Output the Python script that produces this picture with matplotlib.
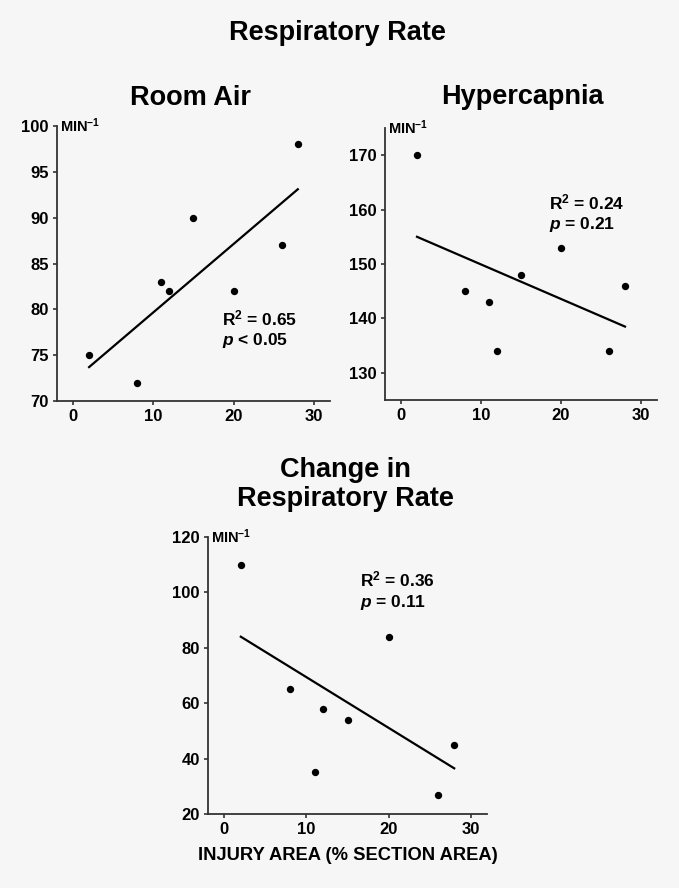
import numpy as np
import matplotlib
matplotlib.use('Agg')
import matplotlib.pyplot as plt

plt.rcParams['font.family'] = ['Liberation Sans', 'DejaVu Sans']
plt.rcParams['mathtext.fontset'] = 'custom'
plt.rcParams['mathtext.rm'] = 'Liberation Sans:bold'
plt.rcParams['mathtext.it'] = 'Liberation Sans:bold:italic'
plt.rcParams['mathtext.bf'] = 'Liberation Sans:bold'

# injury area (% section area), same animals in every panel
injury = [2, 8, 11, 12, 15, 20, 26, 28]

room_air = [75, 72, 83, 82, 90, 82, 87, 98]
hypercapnia = [170, 145, 143, 134, 148, 153, 134, 146]
change = [110, 65, 35, 58, 54, 84, 27, 45]

# regression lines (start, end at x = 2 and x = 28)
fit_x = [2, 28]
room_fit = [73.7, 93.1]
hyper_fit = [155.0, 138.5]
change_fit = [84.0, 36.5]

room_ticks = [70, 75, 80, 85, 90, 95, 100]
hyper_ticks = [130, 140, 150, 160, 170]
change_ticks = [20, 40, 60, 80, 100, 120]
x_ticks = [0, 10, 20, 30]

bg = '#f6f6f6'
fig = plt.figure(figsize=(6.79, 8.88), dpi=100, facecolor=bg)


def panel(rect, x, y, fx, fy, ylim, yticks, stats, spos):
    ax = fig.add_axes(rect, facecolor=bg)
    ax.scatter(x, y, s=28, color='black', zorder=3, linewidths=0)
    ax.plot(fx, fy, color='black', lw=1.6)
    ax.set_xlim(-2, 32)
    ax.set_ylim(*ylim)
    ax.set_xticks(x_ticks)
    ax.set_yticks(yticks)
    for s in ['top', 'right']:
        ax.spines[s].set_visible(False)
    for s in ['left', 'bottom']:
        ax.spines[s].set_color('#333333')
        ax.spines[s].set_linewidth(1.3)
    ax.tick_params(direction='out', length=3, width=1.2, color='#333333',
                   labelsize=12, pad=3)
    for lab in ax.get_xticklabels() + ax.get_yticklabels():
        lab.set_fontweight('bold')
    ax.text(0.012, 1.0, r'MIN$^{-1}$', transform=ax.transAxes,
            ha='left', va='center', fontsize=10.5, fontweight='bold')
    ax.text(spos[0], spos[1], stats[0], ha='left', va='center', fontsize=12.5,
            fontweight='bold')
    ax.text(spos[0], spos[2], stats[1], ha='left', va='center', fontsize=12.5,
            fontweight='bold')
    return ax


panel([0.0839, 0.5484, 0.402, 0.3097], injury, room_air, fit_x, room_fit,
      (70, 100), room_ticks, [r'R$^2$ = 0.65', r'$p$ < 0.05'], (18.6, 79.05, 76.6))
panel([0.567, 0.5495, 0.4006, 0.3064], injury, hypercapnia, fit_x, hyper_fit,
      (125, 175), hyper_ticks, [r'R$^2$ = 0.24', r'$p$ = 0.21'], (18.5, 161.3, 157.2))
ax3 = panel([0.3063, 0.0833, 0.411, 0.312], injury, change, fit_x, change_fit,
            (20, 120), change_ticks, [r'R$^2$ = 0.36', r'$p$ = 0.11'], (16.5, 104.5, 96.4))
ax3.set_xlabel('INJURY AREA (% SECTION AREA)', fontsize=13.2, fontweight='bold',
               labelpad=7)

fig.text(337 / 679, 1 - 33 / 888, 'Respiratory Rate', ha='center', va='center',
         fontsize=19.5, fontweight='bold')
fig.text(190 / 679, 1 - 98 / 888, 'Room Air', ha='center', va='center',
         fontsize=19.5, fontweight='bold')
fig.text(522 / 679, 1 - 97 / 888, 'Hypercapnia', ha='center', va='center',
         fontsize=19.5, fontweight='bold')
fig.text(345 / 679, 1 - 484 / 888, 'Change in\nRespiratory Rate', ha='center',
         va='center', fontsize=19.5, fontweight='bold', linespacing=1.15)

fig.savefig('out.png', dpi=100, facecolor=bg)
